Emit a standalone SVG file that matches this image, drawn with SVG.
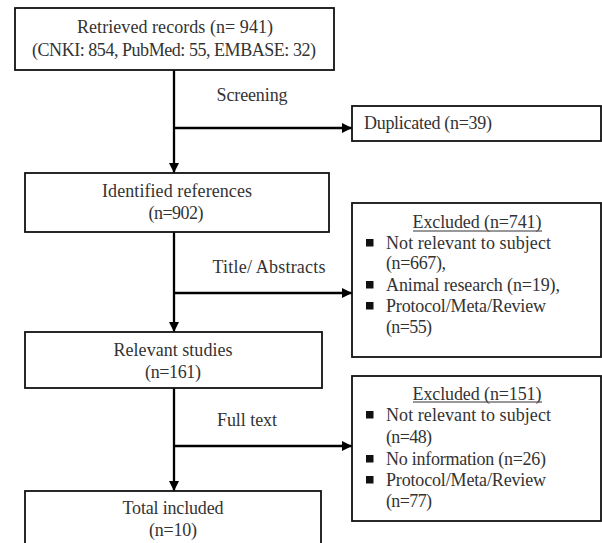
<svg xmlns="http://www.w3.org/2000/svg" width="602" height="543" viewBox="0 0 602 543">
<style>
  .box { fill: #fff; stroke: #111; stroke-width: 1.8; }
  .t { font-family: "Liberation Serif", "Times New Roman", serif; font-size: 18px; fill: #333; }
  .c { text-anchor: middle; }
  .conn { stroke: #000; stroke-width: 2.3; fill: none; }
  .bul { fill: #111; }
  .ul { stroke: #333; stroke-width: 1; }
</style>
<defs>
  <marker id="arr" viewBox="0 0 10 10" refX="10" refY="5" markerWidth="4.5" markerHeight="4.5" orient="auto" markerUnits="strokeWidth">
    <path d="M0,0 L10,5 L0,10 z" fill="#000"/>
  </marker>
</defs>
<rect width="602" height="543" fill="#fff"/>
<g id="connectors">
  <line class="conn" x1="174" y1="70" x2="174" y2="173" marker-end="url(#arr)"/>
  <line class="conn" x1="174" y1="128" x2="352" y2="128" marker-end="url(#arr)"/>
  <line class="conn" x1="174" y1="232" x2="174" y2="332" marker-end="url(#arr)"/>
  <line class="conn" x1="174" y1="293" x2="352" y2="293" marker-end="url(#arr)"/>
  <line class="conn" x1="174" y1="388" x2="174" y2="491" marker-end="url(#arr)"/>
  <line class="conn" x1="174" y1="446" x2="352" y2="446" marker-end="url(#arr)"/>
  <text class="t c" x="252" y="101" textLength="71">Screening</text>
  <text class="t c" x="269" y="273" textLength="113">Title/ Abstracts</text>
  <text class="t c" x="247" y="426" textLength="60">Full text</text>
</g>
<g id="retrieved">
  <rect class="box" x="15" y="8" width="319" height="62"/>
  <text class="t c" x="175" y="33" textLength="196">Retrieved records (n= 941)</text>
  <text class="t c" x="174" y="56" textLength="284">(CNKI: 854, PubMed: 55, EMBASE: 32)</text>
</g>
<g id="duplicated">
  <rect class="box" x="352" y="106" width="249" height="35"/>
  <text class="t" x="364" y="129" textLength="128">Duplicated (n=39)</text>
</g>
<g id="identified">
  <rect class="box" x="25" y="173" width="304" height="59"/>
  <text class="t c" x="177" y="197" textLength="150">Identified references</text>
  <text class="t c" x="176" y="219" textLength="55">(n=902)</text>
</g>
<g id="excluded1">
  <rect class="box" x="352" y="203" width="249" height="154"/>
  <text class="t c" x="477" y="228" textLength="129">Excluded (n=741)</text>
  <line class="ul" x1="413" y1="231" x2="542" y2="231"/>
  <rect class="bul" x="366" y="239" width="7.5" height="7.5"/>
  <text class="t" x="386" y="249" textLength="165">Not relevant to subject</text>
  <text class="t" x="386" y="269" textLength="60">(n=667),</text>
  <rect class="bul" x="366" y="281" width="7.5" height="7.5"/>
  <text class="t" x="386" y="291" textLength="174">Animal research (n=19),</text>
  <rect class="bul" x="366" y="302" width="7.5" height="7.5"/>
  <text class="t" x="386" y="312" textLength="160">Protocol/Meta/Review</text>
  <text class="t" x="386" y="333" textLength="46">(n=55)</text>
</g>
<g id="relevant">
  <rect class="box" x="25" y="332" width="297" height="56"/>
  <text class="t c" x="173" y="356" textLength="119">Relevant studies</text>
  <text class="t c" x="173" y="378" textLength="56">(n=161)</text>
</g>
<g id="excluded2">
  <rect class="box" x="352" y="376" width="249" height="145"/>
  <text class="t c" x="477" y="400" textLength="129">Excluded (n=151)</text>
  <line class="ul" x1="413" y1="402" x2="542" y2="402"/>
  <rect class="bul" x="366" y="411" width="7.5" height="7.5"/>
  <text class="t" x="386" y="421" textLength="165">Not relevant to subject</text>
  <text class="t" x="386" y="443" textLength="46">(n=48)</text>
  <rect class="bul" x="366" y="455" width="7.5" height="7.5"/>
  <text class="t" x="386" y="465" textLength="160">No information (n=26)</text>
  <rect class="bul" x="366" y="476" width="7.5" height="7.5"/>
  <text class="t" x="386" y="486" textLength="160">Protocol/Meta/Review</text>
  <text class="t" x="386" y="507" textLength="46">(n=77)</text>
</g>
<g id="total">
  <rect class="box" x="25" y="491" width="296" height="62"/>
  <text class="t c" x="173" y="514" textLength="101">Total included</text>
  <text class="t c" x="173" y="536" textLength="48">(n=10)</text>
</g>
</svg>
